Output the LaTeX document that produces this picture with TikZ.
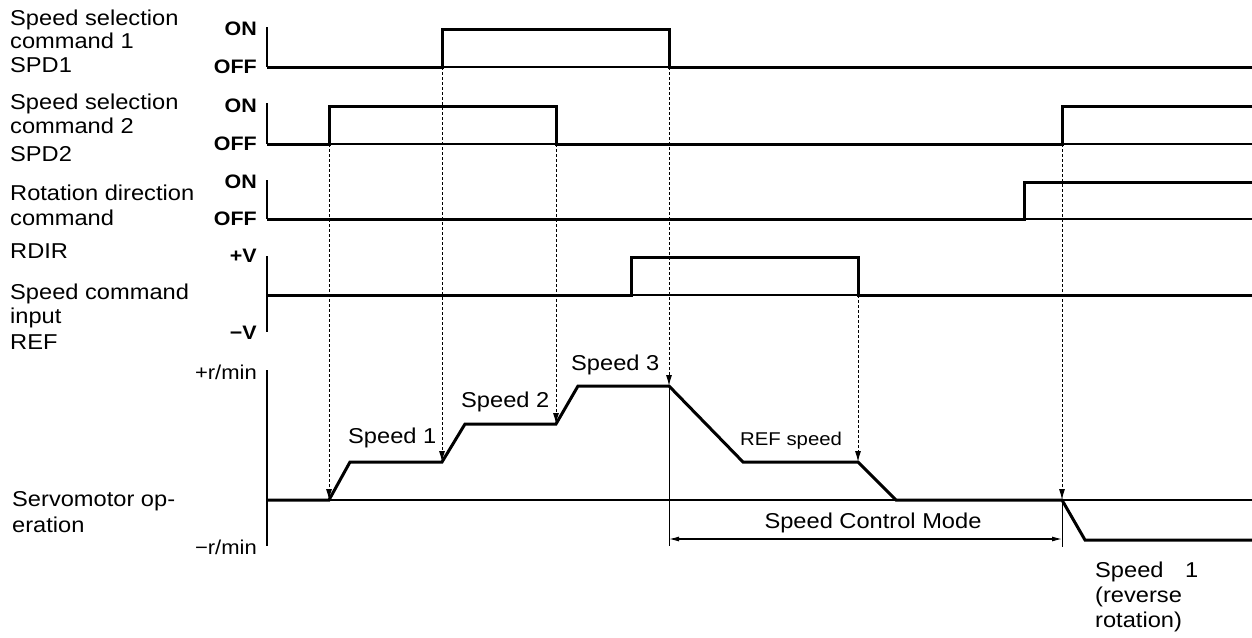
\documentclass[tikz,border=0pt]{standalone}
\usepackage{fontspec}
\setmainfont[FakeStretch=1.1]{Liberation Sans}
\usetikzlibrary{arrows.meta}
\newcommand{\lblfont}{\fontsize{21.5}{24}\selectfont}
\newcommand{\tickfont}{\fontsize{19.5}{20}\selectfont\bfseries}
\newcommand{\rpmfont}{\fontsize{20}{20}\selectfont}
\newcommand{\mysmallfont}{\fontsize{18.5}{20}\selectfont}
\begin{document}
\begin{tikzpicture}[x=1pt,y=-1pt,
  trace/.style={line width=3pt, line join=miter},
  base/.style={line width=1.3pt},
  axis/.style={line width=1.4pt},
  guide/.style={line width=1pt, dash pattern=on 3pt off 2pt, -{Latex[length=11pt,width=6pt]}},
  span/.style={line width=1.1pt, {Latex[length=10pt,width=5pt]}-{Latex[length=10pt,width=5pt]}},
  lbl/.style={anchor=base west, inner sep=0pt, font=\lblfont},
  tick/.style={anchor=east, inner sep=0pt, font=\tickfont},
  rpm/.style={anchor=east, inner sep=0pt, font=\rpmfont}]
\useasboundingbox (0,0) rectangle (1252,637);

% ---- left labels ----
\node[lbl] (l1a) at (10,25) {Speed selection};
\node[lbl] (l1b) at (10,48) {command 1};
\node[lbl] (l1c) at (10,72) {SPD1};
\node[lbl] (l2a) at (10,109) {Speed selection};
\node[lbl] (l2b) at (10,133) {command 2};
\node[lbl] (l2c) at (10,161) {SPD2};
\node[lbl] (l3a) at (10,200) {Rotation direction};
\node[lbl] (l3b) at (10,225) {command};
\node[lbl] (l3c) at (10,258) {RDIR};
\node[lbl] (l4a) at (10,299) {Speed command};
\node[lbl] (l4b) at (10,323) {input};
\node[lbl] (l4c) at (10,349) {REF};
\node[lbl] (l5a) at (12,506) {Servomotor op-};
\node[lbl] (l5b) at (12,532) {eration};

% ---- tick labels ----
\node[tick] (t1on) at (257,29) {ON};
\node[tick] (t1off) at (257,67) {OFF};
\node[tick] (t2on) at (257,106) {ON};
\node[tick] (t2off) at (257,144) {OFF};
\node[tick] (t3on) at (257,182) {ON};
\node[tick] (t3off) at (257,219) {OFF};
\node[tick] (t4p) at (257,256) {+V};
\node[tick] (t4m) at (257,333) {−V};
\node[rpm] (t5p) at (257,372) {+r/min};
\node[rpm] (t5m) at (257,547) {−r/min};

% ---- axes ----
\draw[axis] (267,27) -- (267,67);
\draw[axis] (267,103) -- (267,144);
\draw[axis] (267,180) -- (267,219);
\draw[axis] (267,256) -- (267,332);
\draw[axis] (267,370) -- (267,546);

% ---- baselines ----
\draw[base] (267,67) -- (1252,67);
\draw[base] (267,144) -- (1252,144);
\draw[base] (267,219) -- (1252,219);
\draw[base] (267,295) -- (1252,295);
\draw[base] (267,500) -- (1252,500);

% ---- signal traces ----
\draw[trace] (267,67) -- (442,67) -- (442,29) -- (669,29) -- (669,67) -- (1252,67);
\draw[trace] (267,144) -- (329,144) -- (329,106) -- (556,106) -- (556,144) -- (1062,144) -- (1062,106) -- (1252,106);
\draw[trace] (267,219) -- (1024,219) -- (1024,182) -- (1252,182);
\draw[trace] (267,295) -- (631,295) -- (631,257) -- (858,257) -- (858,295) -- (1252,295);

% ---- servomotor trace ----
\coordinate (m0) at (267,500);
\coordinate (m1) at (329,500);
\coordinate (m2) at (350,462);
\coordinate (m3) at (442,462);
\coordinate (m4) at (465,424);
\coordinate (m5) at (556,424);
\coordinate (m6) at (578,386);
\coordinate (m7) at (669,386);
\coordinate (m8) at (743,462);
\coordinate (m9) at (858,462);
\coordinate (m10) at (896,500);
\coordinate (m11) at (1062,500);
\coordinate (m12) at (1085,540);
\coordinate (m13) at (1252,540);
\draw[trace] (m0) -- (m1) -- (m2) -- (m3) -- (m4) -- (m5) -- (m6) -- (m7) -- (m8) -- (m9) -- (m10) -- (m11) -- (m12) -- (m13);

% ---- edge points ----
\coordinate (e1) at (329,144);
\coordinate (e2) at (442,67);
\coordinate (e3) at (556,144);
\coordinate (e4) at (669,67);
\coordinate (e5) at (858,295);
\coordinate (e6) at (1062,144);

\draw[guide] (e1) -- (m1);
\draw[guide] (e2) -- (m3);
\draw[guide] (e3) -- (m5);
\draw[guide] (e4) -- (m7);
\draw[guide] (e5) -- (m9);
\draw[guide] (e6) -- (m11);

% ---- speed control mode ----
\coordinate (vL) at (669,546);
\coordinate (vR) at (1062,547);
\coordinate (scL) at (669,539);
\coordinate (scR) at (1062,539);
\draw[line width=1pt] (m7) -- (vL);
\draw[line width=1pt] (m11) -- (vR);
\draw[span] (scL) -- (scR);
\node[anchor=base, inner sep=0pt, font=\lblfont] (scm) at (873,528) {Speed Control Mode};

% ---- speed labels ----
\node[lbl] (sp1) at (348,443) {Speed 1};
\node[lbl] (sp2) at (461,407) {Speed 2};
\node[lbl] (sp3) at (571,370) {Speed 3};
\node[anchor=base west, inner sep=0pt, font=\mysmallfont] (refsp) at (740,445) {REF speed};
\node[lbl] (rv1) at (1095,577) {Speed\quad 1};
\node[lbl] (rv2) at (1095,602) {(reverse};
\node[lbl] (rv3) at (1095,627) {rotation)};
\end{tikzpicture}
\end{document}
